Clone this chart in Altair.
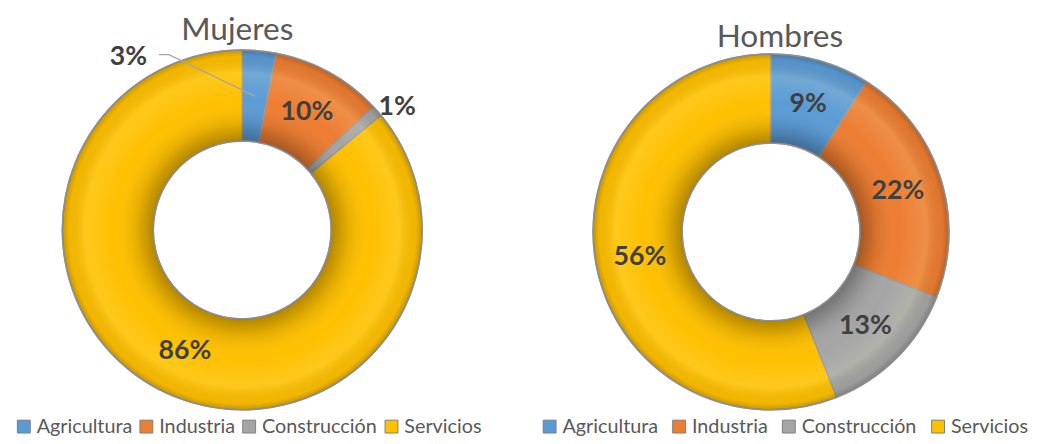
import math
import altair as alt
import pandas as pd

categorias = ["Agricultura", "Industria", "Construcción", "Servicios"]
mujeres = [3, 10, 1, 86]
hombres = [9, 22, 13, 56]
colores = ["#5B9BD5", "#ED7D31", "#A5A5A5", "#FFC000"]
titulos = ["Mujeres", "Hombres"]

FONT = "Lato"
PW = 505
LEGY = 411


def tabla(vals):
    return pd.DataFrame({
        "categoria": categorias,
        "valor": vals,
        "orden": list(range(len(vals))),
        "etiqueta": [f"{v}%" for v in vals],
    })


def shade(r, R):
    k = r / R
    return alt.RadialGradient(
        gradient="radial", x1=0.5, y1=0.5, x2=0.5, y2=0.5, r1=0, r2=0.5,
        stops=[
            alt.GradientStop(color="rgba(0,0,0,0.30)", offset=k),
            alt.GradientStop(color="rgba(0,0,0,0.10)", offset=k + (1 - k) * 0.18),
            alt.GradientStop(color="rgba(255,255,255,0.0)", offset=k + (1 - k) * 0.45),
            alt.GradientStop(color="rgba(255,255,200,0.14)", offset=k + (1 - k) * 0.75),
            alt.GradientStop(color="rgba(0,0,0,0.05)", offset=k + (1 - k) * 0.93),
            alt.GradientStop(color="rgba(0,0,0,0.22)", offset=1.0),
        ],
    )


def panel(vals, titulo, cx, cy, R, r, tx, ty, legx, colpad, outside):
    df = tabla(vals)
    color = alt.Color(
        "categoria:N",
        scale=alt.Scale(domain=categorias, range=colores),
        sort=categorias,
        legend=alt.Legend(
            orient="none", legendX=legx, legendY=LEGY, direction="horizontal",
            title=None, symbolType="square", symbolSize=170,
            symbolStrokeColor="#7f7f7f", symbolStrokeWidth=1,
            labelFont=FONT, labelFontSize=20, labelColor="#595959",
            columnPadding=colpad, labelOffset=3, padding=0,
        ),
    )
    base = alt.Chart(df).encode(
        theta=alt.Theta("valor:Q", stack=True),
        order=alt.Order("orden:Q"),
        x=alt.value(cx), y=alt.value(cy),
    )
    arcs = base.mark_arc(innerRadius=r, outerRadius=R, stroke="#9a9a9a",
                         strokeWidth=1.5).encode(color=color)
    ring = alt.Chart(pd.DataFrame({"v": [1]})).mark_arc(
        innerRadius=r, outerRadius=R, theta=0, theta2=2 * math.pi,
        fill=shade(r, R), stroke="#8f8f8f", strokeWidth=1.5
    ).encode(x=alt.value(cx), y=alt.value(cy))
    rm = (R + r) / 2
    inside = [c for c in categorias if c not in outside]
    lab = base.mark_text(radius=rm, font=FONT, fontSize=27, fontWeight="bold",
                         color="#404040").encode(
        text=alt.condition(alt.FieldOneOfPredicate(field="categoria", oneOf=inside),
                           "etiqueta:N", alt.value("")))
    layers = [arcs, ring, lab]
    for cat, (rad, dx, dy) in outside.items():
        layers.append(
            base.mark_text(radius=rad, dx=dx, dy=dy, font=FONT, fontSize=27,
                           fontWeight="bold", color="#404040")
            .encode(text=alt.condition(alt.FieldEqualPredicate(field="categoria", equal=cat),
                                       "etiqueta:N", alt.value("")))
        )
    tit = alt.Chart(pd.DataFrame({"t": [titulo]})).mark_text(
        font=FONT, fontSize=32, color="#595959", baseline="alphabetic"
    ).encode(text="t:N", x=alt.value(tx), y=alt.value(ty))
    layers.append(tit)
    return df, layers


# Mujeres
cx1, cy1, R1, r1 = 237, 222, 182, 90
df1, lay1 = panel(mujeres, titulos[0], cx1, cy1, R1, r1, 232, 30, 6, 4,
                  {"Agricultura": (136, -128, -39), "Construcción": (197, 9, 6)})
# leader line for the small Agricultura slice
mid = (mujeres[0] / 2) / sum(mujeres) * 2 * math.pi
ex, ey = cx1 + 136 * math.sin(mid), cy1 - 136 * math.cos(mid)
lx, ly = ex - 128, ey - 39
leader = pd.DataFrame({"px": [lx + 31, lx + 41, ex], "py": [ly - 3, ly - 3, ey], "k": [0, 1, 2]})
line = alt.Chart(leader).mark_line(color="#a6a6a6", strokeWidth=1.3).encode(
    x=alt.X("px:Q", scale=None, axis=None), y=alt.Y("py:Q", scale=None, axis=None),
    order="k:Q")
lay1.insert(2, line)
left = alt.layer(*lay1).properties(width=PW, height=420)

# Hombres
ox2 = 8 + PW
df2, lay2 = panel(hombres, titulos[1], 780 - ox2, 232 - 8, 180, 90, 789 - ox2, 37, 546 - ox2, 11, {})
right = alt.layer(*lay2).properties(width=PW, height=420)

chart = (
    alt.hconcat(left, right, spacing=0)
    .resolve_scale(color="independent")
    .properties(padding={"top": 0, "left": 0, "right": 0, "bottom": -2})
    .configure_view(stroke=None)
)
chart.save("out.html", embed_options={"renderer": "svg", "actions": False})
